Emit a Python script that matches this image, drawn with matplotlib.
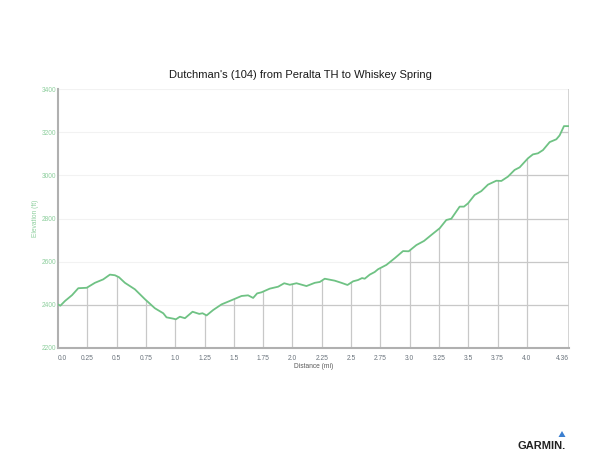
import numpy as np
import matplotlib
matplotlib.use('Agg')
import matplotlib.pyplot as plt
from matplotlib.patches import Polygon

# Profil verisi (mil, ft)
distance = [0.0, 0.02, 0.06, 0.12, 0.173, 0.245, 0.315, 0.386, 0.443, 0.486, 0.52, 0.571,
            0.656, 0.742, 0.827, 0.898, 0.926, 0.983, 1.006, 1.04, 1.083, 1.148, 1.205,
            1.233, 1.268, 1.324, 1.395, 1.466, 1.566, 1.622, 1.665, 1.699, 1.736, 1.807,
            1.878, 1.930, 1.978, 2.035, 2.120, 2.191, 2.234, 2.276, 2.361, 2.418, 2.470,
            2.518, 2.560, 2.594, 2.617, 2.660, 2.702, 2.731, 2.802, 2.873, 2.944, 2.992,
            3.058, 3.123, 3.186, 3.257, 3.313, 3.356, 3.427, 3.464, 3.498, 3.555, 3.612,
            3.669, 3.740, 3.783, 3.839, 3.896, 3.939, 4.010, 4.052, 4.095, 4.138, 4.195,
            4.252, 4.280, 4.317, 4.351, 4.36]
elevation = [2402, 2396, 2418, 2445, 2477, 2479, 2502, 2518, 2540, 2537, 2528, 2502,
             2472, 2426, 2384, 2361, 2342, 2336, 2333, 2345, 2338, 2368, 2358,
             2361, 2351, 2376, 2402, 2418, 2441, 2444, 2432, 2453, 2458, 2475,
             2484, 2500, 2493, 2500, 2487, 2502, 2506, 2521, 2512, 2502, 2492,
             2509, 2515, 2524, 2521, 2540, 2552, 2565, 2585, 2616, 2649, 2648,
             2677, 2696, 2724, 2755, 2793, 2799, 2855, 2855, 2870, 2909, 2927,
             2957, 2975, 2974, 2994, 3025, 3037, 3079, 3097, 3102, 3117, 3154,
             3167, 3185, 3228, 3228, 3228]

x_ticks = [0.0, 0.25, 0.5, 0.75, 1.0, 1.25, 1.5, 1.75, 2.0, 2.25, 2.5, 2.75,
           3.0, 3.25, 3.5, 3.75, 4.0, 4.36]
x_labels = ['0.0', '0.25', '0.5', '0.75', '1.0', '1.25', '1.5', '1.75', '2.0', '2.25',
            '2.5', '2.75', '3.0', '3.25', '3.5', '3.75', '4.0', '4.36']
y_ticks = [2200, 2400, 2600, 2800, 3000, 3200, 3400]

plt.rcParams['font.family'] = ['Liberation Sans', 'DejaVu Sans']

fig = plt.figure(figsize=(6, 4.63), dpi=100)
ax = fig.add_axes([58 / 600, 1 - 348 / 463, 511 / 600, 259 / 463])
ax.set_xlim(0, 4.36)
ax.set_ylim(2200, 3400)

# Egri altindaki alan (kirpma icin)
verts = list(zip(distance, elevation)) + [(4.36, 2200), (0.0, 2200)]
area = Polygon(verts, closed=True, facecolor='none', edgecolor='none')
ax.add_patch(area)

# Soluk yatay izgara cizgileri
for yt in y_ticks[1:]:
    ax.axhline(yt, color='#f2f2f2', lw=0.8, zorder=1)
# Egri altinda koyu izgara
for yt in y_ticks[1:]:
    ln = ax.axhline(yt, color='#c8c8c8', lw=0.9, zorder=1.5)
    ln.set_clip_path(area)
for xt in x_ticks[1:-1]:
    ln = ax.axvline(xt, color='#c8c8c8', lw=0.9, zorder=1.5)
    ln.set_clip_path(area)
ax.axvline(4.36, color='#cccccc', lw=1.2, zorder=1.5)

ax.plot(distance, elevation, color='#6fc284', lw=1.3, zorder=3, solid_joinstyle='round')

for s in ['top', 'right']:
    ax.spines[s].set_visible(False)
ax.spines['left'].set_color('#b0b0b0')
ax.spines['left'].set_linewidth(1.5)
ax.spines['bottom'].set_color('#b0b0b0')
ax.spines['bottom'].set_linewidth(1.5)

ax.set_xticks(x_ticks)
ax.set_xticklabels(x_labels)
ax.set_yticks(y_ticks)
ax.tick_params(axis='both', length=0, labelsize=4.8)
ax.tick_params(axis='x', pad=5, labelcolor='#6a737c')
ax.tick_params(axis='y', pad=1, labelcolor='#8ecf9e')
xl = ax.get_xticklabels()
xl[0].set_ha('left')
xl[-1].set_ha('right')

ax.set_xlabel('Distance (mi)', fontsize=4.8, color='#5a5a5a', labelpad=1)
ax.set_ylabel('Elevation (ft)', fontsize=4.8, color='#8ecf9e', labelpad=2.5)

fig.text(0.5, 1 - 75 / 463, "Dutchman's (104) from Peralta TH to Whiskey Spring",
         ha='center', va='center', fontsize=8, color='#1a1a1a')

# GARMIN logosu
fig.text(542 / 600, 1 - 446 / 463, 'GARMIN.', ha='center', va='center',
         fontsize=8, fontweight='bold', color='#222222')
fig.patches.append(Polygon([(558.5 / 600, 1 - 437 / 463), (565.5 / 600, 1 - 437 / 463),
                            (562 / 600, 1 - 431 / 463)], closed=True,
                           transform=fig.transFigure, facecolor='#3b7fd0', edgecolor='none'))

fig.savefig('out.png', dpi=100)
